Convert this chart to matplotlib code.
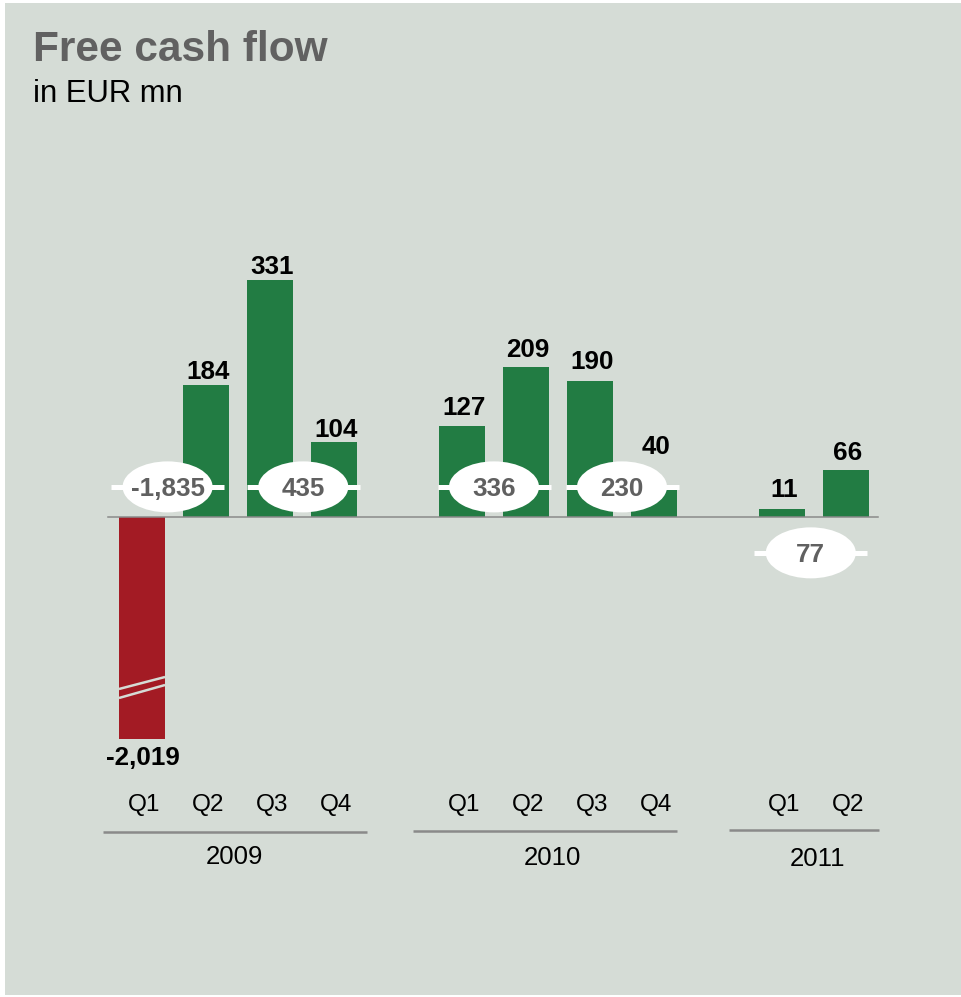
import numpy as np
import matplotlib
matplotlib.use("Agg")
import matplotlib.pyplot as plt
from matplotlib.patches import Ellipse, Rectangle

# ---------------- data ----------------
years = ["2009", "2010", "2011"]
quarters = ["Q1", "Q2", "Q3", "Q4", "Q1", "Q2", "Q3", "Q4", "Q1", "Q2"]
values = [-2019, 184, 331, 104, 127, 209, 190, 40, 11, 66]
value_labels = ["-2,019", "184", "331", "104", "127", "209", "190", "40", "11", "66"]
half_year_totals = [-1835, 435, 336, 230, 77]
half_year_labels = ["-1,835", "435", "336", "230", "77"]

# ---------------- layout ----------------
W, H, DPI = 961, 997, 100
x_pos = [0, 1, 2, 3, 5, 6, 7, 8, 10, 11]
bar_w = 0.72
label_gap_px = [7, 6, 6, 5, 11, 10, 12, 34, 12, 10]
half_x = [0.40, 2.52, 5.5, 7.5, 10.45]
half_y = [42, 42, 42, 42, -50]
year_line = [(-0.61, 3.52), (4.23, 8.36), (9.17, 11.52)]
year_x = [1.45, 6.42, 10.55]
year_line_px = [832, 831, 830]
year_base_px = [864, 865, 866]

GREEN = "#227c43"
RED = "#a31b24"
BG = "#d5dcd6"
GREY_TXT = "#606060"
FONT = "Liberation Sans"

PX_PER_UNIT_X = 64.0
X0_PX = 142.0
PX_PER_UNIT_Y = 0.717
BASE_PX = 517.0

# broken-axis scale: linear above T, compressed below
T = -240.0
K = (309.6 - 240.0) / (2019.0 - 240.0)


def fwd(y):
    y = np.asarray(y, dtype=float)
    return np.where(y >= T, y, T + (y - T) * K)


def inv(v):
    v = np.asarray(v, dtype=float)
    return np.where(v >= T, v, T + (v - T) / K)


fig = plt.figure(figsize=(W / DPI, H / DPI), dpi=DPI)
fig.patch.set_facecolor("white")
fig.patches.append(Rectangle((5 / W, 2 / H), (W - 5) / W, (H - 5) / H,
                             transform=fig.transFigure, facecolor=BG,
                             edgecolor="none", zorder=-5))

ax = fig.add_axes([0, 0, 1, 1])
ax.patch.set_visible(False)
ax.set_axis_off()
ax.set_yscale("function", functions=(fwd, inv))
ax.set_xlim(-X0_PX / PX_PER_UNIT_X, (W - X0_PX) / PX_PER_UNIT_X)
top_v = BASE_PX / PX_PER_UNIT_Y
bot_v = -(H - BASE_PX) / PX_PER_UNIT_Y
ax.set_ylim(float(inv(bot_v)), float(inv(top_v)))


def px_to_ay(py):
    return 1 - py / H


# bars
colors = [RED if v < 0 else GREEN for v in values]
ax.bar(x_pos, values, width=bar_w, color=colors, zorder=2)

# break marks on the negative bar
for x, v in zip(x_pos, values):
    if v < T * 2:
        for (l_px, r_px) in [(172, 160), (181, 168)]:
            yl = float(inv(-l_px / PX_PER_UNIT_Y))
            yr = float(inv(-r_px / PX_PER_UNIT_Y))
            ax.plot([x - bar_w / 2, x + bar_w / 2], [yl, yr], color=BG,
                    lw=1.8, zorder=3, solid_capstyle="butt")

# baseline
ax.plot([-0.53, 11.5], [0, 0], color="#8a8a8a", lw=1.1, zorder=3)

# value labels
for x, v, lab, g in zip(x_pos, values, value_labels, label_gap_px):
    if v >= 0:
        ax.annotate(lab, (x, v), xytext=(1.5, g * 0.72), textcoords="offset points",
                    ha="center", va="baseline", fontsize=18.7, fontweight="bold",
                    family=FONT, color="black", zorder=5)
    else:
        ax.annotate(lab, (x, v), xytext=(1, -g * 0.72), textcoords="offset points",
                    ha="center", va="top", fontsize=18.7, fontweight="bold",
                    family=FONT, color="black", zorder=5)

# half-year bubbles
ell_w = 90 / PX_PER_UNIT_X
ell_h = 51 / PX_PER_UNIT_Y
line_len = 113 / PX_PER_UNIT_X
for hx, hy, lab in zip(half_x, half_y, half_year_labels):
    ax.plot([hx - line_len / 2, hx + line_len / 2], [hy, hy], color="white",
            lw=3.6, solid_capstyle="butt", zorder=6)
    ax.add_patch(Ellipse((hx, hy), ell_w, ell_h, facecolor="white",
                         edgecolor="none", zorder=7))
    ax.annotate(lab, (hx, hy), xytext=(0, -9 * 0.72), textcoords="offset points",
                ha="center", va="baseline", fontsize=18.7, fontweight="bold",
                family=FONT, color=GREY_TXT, zorder=8)

# quarter labels
tr = ax.get_xaxis_transform()
for x, q in zip(x_pos, quarters):
    ax.text(x + 0.03, px_to_ay(810.5), q, transform=tr, ha="center", va="baseline",
            fontsize=17.6, family=FONT, color="black")

# year lines and labels
for (x0, x1), yx, y, lp, bp in zip(year_line, year_x, years, year_line_px, year_base_px):
    ax.plot([x0, x1], [px_to_ay(lp)] * 2, transform=tr, color="#8a8a8a", lw=1.8,
            solid_capstyle="butt")
    ax.text(yx, px_to_ay(bp), y, transform=tr, ha="center", va="baseline",
            fontsize=18.5, family=FONT, color="black")

# titles
fig.text(33 / W, px_to_ay(61), "Free cash flow", ha="left", va="baseline",
         fontsize=30.5, fontweight="bold", family=FONT, color="#616161")
fig.text(33 / W, px_to_ay(102), "in EUR mn", ha="left", va="baseline",
         fontsize=22.3, family=FONT, color="black")

fig.savefig("out.png", dpi=DPI, facecolor=fig.get_facecolor())
